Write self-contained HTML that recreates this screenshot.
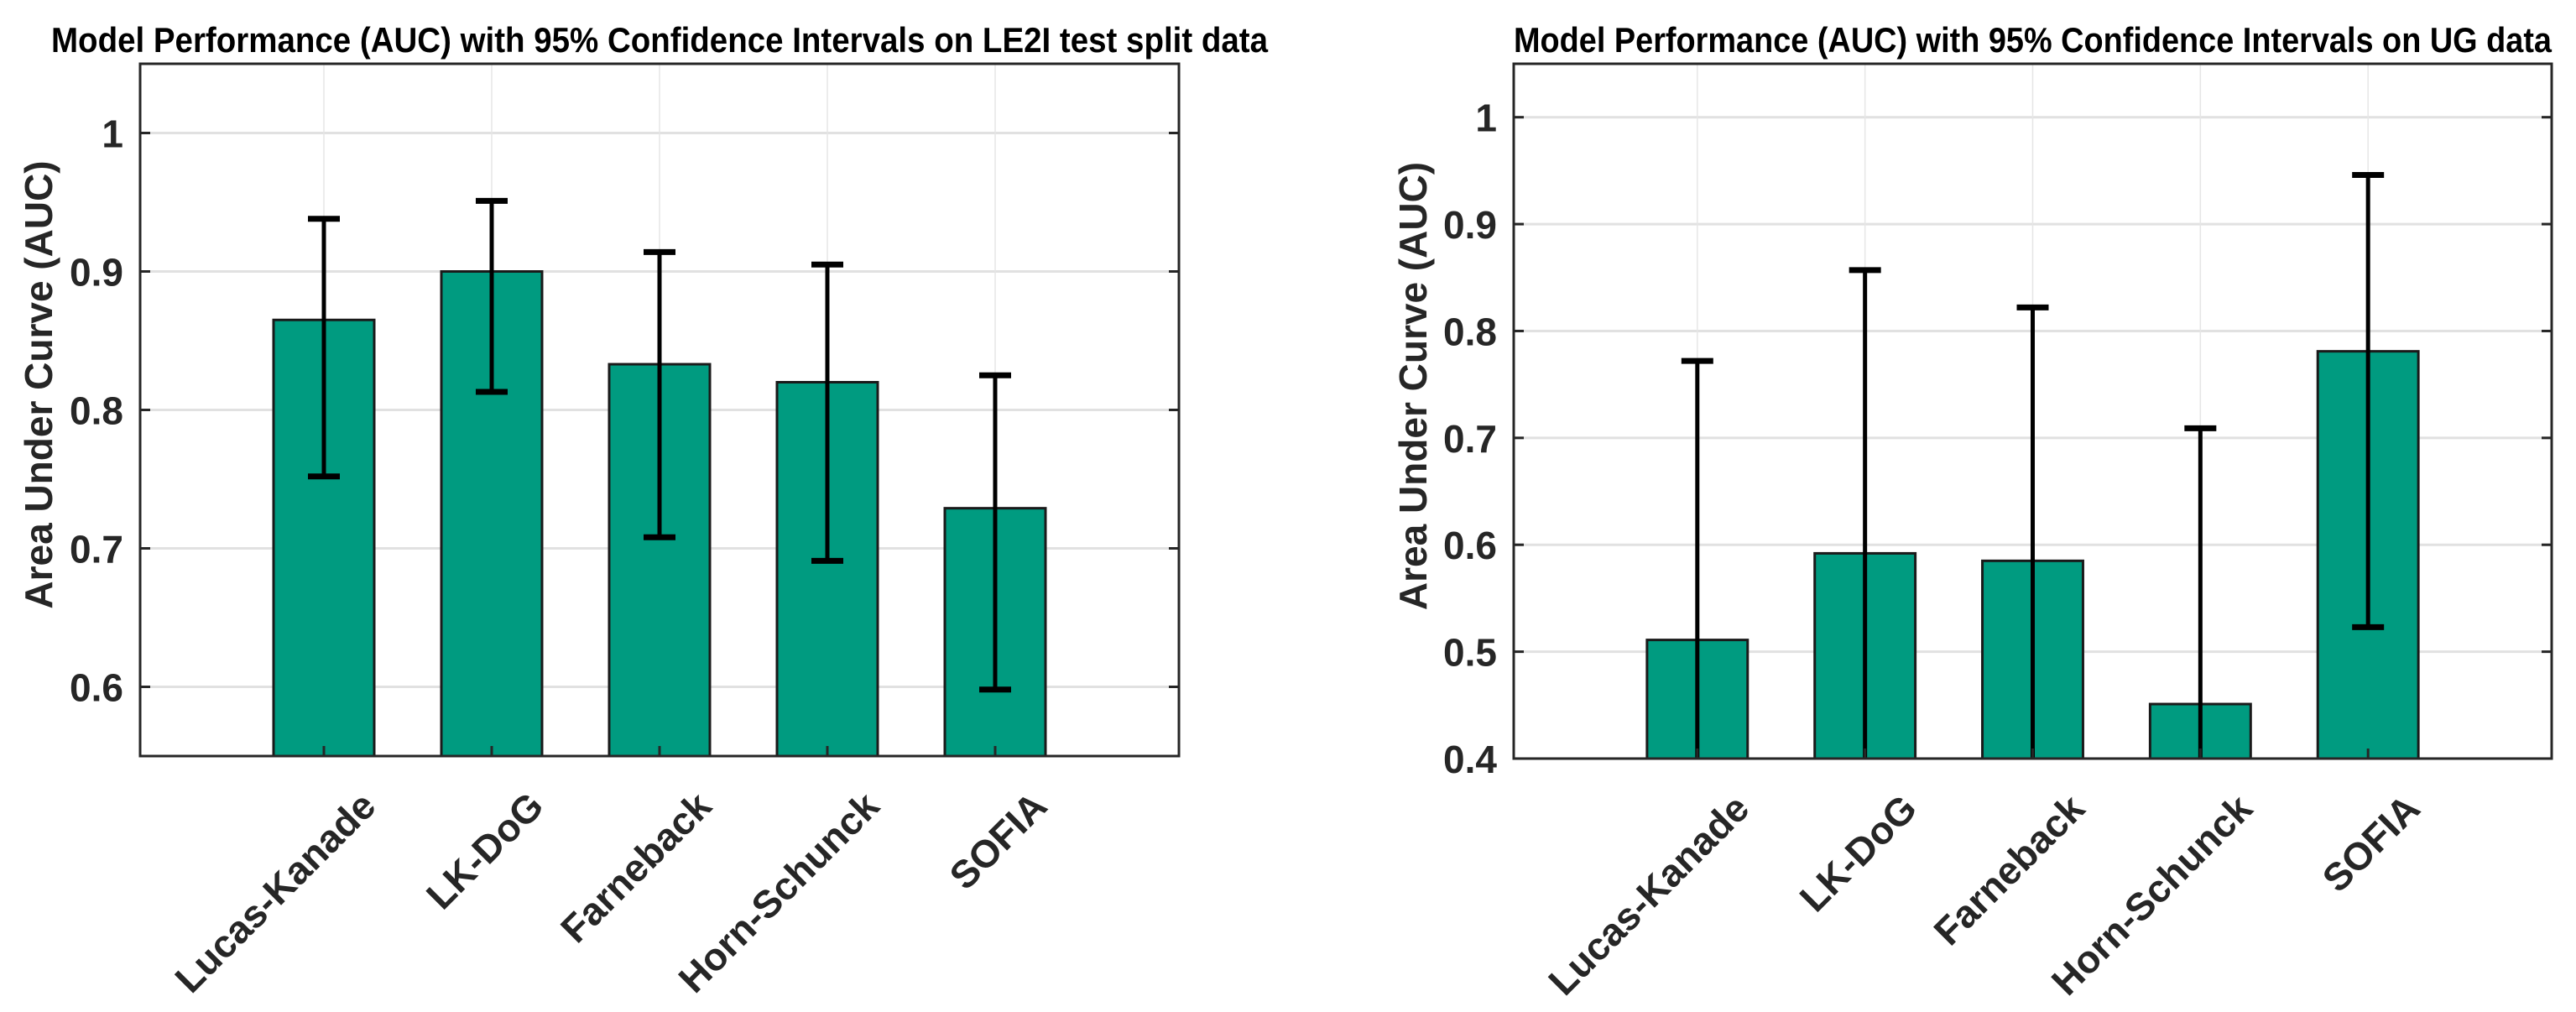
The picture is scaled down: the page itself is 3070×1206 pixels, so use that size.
<!DOCTYPE html>
<html><head><meta charset="utf-8">
<style>
html,body{margin:0;padding:0;background:#fff;}
svg{display:block;font-family:"Liberation Sans",Arial,sans-serif;}
</style></head>
<body>
<svg id="fig" width="3070" height="1206" viewBox="0 0 3070 1206" xmlns="http://www.w3.org/2000/svg">
<rect x="0" y="0" width="3070" height="1206" fill="#fff"/>
</svg>
<script>
const categories = ["Lucas-Kanade","LK-DoG","Farneback","Horn-Schunck","SOFIA"];
const aucLE2I = [0.865, 0.900, 0.833, 0.820, 0.729];
const lowLE2I = [0.752, 0.813, 0.708, 0.691, 0.598];
const highLE2I = [0.938, 0.951, 0.914, 0.905, 0.825];
const ticksLE2I = [0.6, 0.7, 0.8, 0.9, 1];
const aucUG = [0.511, 0.592, 0.585, 0.451, 0.781];
const lowUG = [0.250, 0.327, 0.348, 0.193, 0.523];
const highUG = [0.772, 0.857, 0.822, 0.709, 0.946];
const ticksUG = [0.4, 0.5, 0.6, 0.7, 0.8, 0.9, 1];

const NS = "http://www.w3.org/2000/svg";
const svg = document.getElementById('fig');
function mk(tag, attrs, parent){
  const e = document.createElementNS(NS, tag);
  for (const k in attrs) e.setAttribute(k, attrs[k]);
  (parent||svg).appendChild(e);
  return e;
}

function drawChart(cfg){
  const g = mk('g', {});
  
  
  const L=cfg.left, R=cfg.right, T=76, B=cfg.bottom;
  const step = (R-L)/(categories.length-1+2.19);
  const xS = i => L + step*(1.095 + i);
  const yS = v => B - (v - cfg.ymin)/(cfg.ymax - cfg.ymin)*(B-T);
  const clipId = cfg.name+'-clip';
  const defs = mk('defs', {}, g);
  const cp = mk('clipPath', {id: clipId}, defs);
  mk('rect', {x:L, y:T, width:R-L, height:B-T}, cp);
  cfg.ticks.forEach(v=>{
    const l = mk('line', {x1:L, x2:R, y1:yS(v), y2:yS(v), stroke:'#e1e1e1', 'stroke-width':3}, g);
    
    
  });
  categories.forEach((c,i)=>{
    const l = mk('line', {x1:xS(i), x2:xS(i), y1:T, y2:B, stroke:'#e6e6e6', 'stroke-width':1.5}, g);
    
    
  });
  const pg = mk('g', {'clip-path':'url(#'+clipId+')'}, g);
  const bw = step*0.6;
  cfg.vals.forEach((v,i)=>{
    const r = mk('rect', {x:xS(i)-bw/2, y:yS(v), width:bw, height:B-yS(v), fill:'#009b80', stroke:'#1a1a1a', 'stroke-width':3}, pg);
    
    
  });
  cfg.vals.forEach((v,i)=>{
    const eg = mk('g', {stroke:'#000'}, pg);
    
    
    const x = xS(i);
    mk('line', {x1:x, x2:x, y1:yS(cfg.hi[i]), y2:yS(cfg.lo[i]), 'stroke-width':5}, eg);
    mk('line', {x1:x-19, x2:x+19, y1:yS(cfg.hi[i]), y2:yS(cfg.hi[i]), 'stroke-width':7}, eg);
    mk('line', {x1:x-19, x2:x+19, y1:yS(cfg.lo[i]), y2:yS(cfg.lo[i]), 'stroke-width':7}, eg);
  });
  const fr = mk('rect', {x:L, y:T, width:R-L, height:B-T, fill:'none', stroke:'#262626', 'stroke-width':3}, g);
  
  
  cfg.ticks.forEach(v=>{
    const y = yS(v);
    mk('line', {x1:L, x2:L+12, y1:y, y2:y, stroke:'#262626', 'stroke-width':3}, g);
    mk('line', {x1:R-12, x2:R, y1:y, y2:y, stroke:'#262626', 'stroke-width':3}, g);
    const t = mk('text', {x:L-20, y:y+17, 'text-anchor':'end', 'font-size':46, 'font-weight':'bold', fill:'#262626'}, g);
    t.textContent = String(v);
    
    
  });
  categories.forEach((c,i)=>{
    const x = xS(i);
    mk('line', {x1:x, x2:x, y1:B-12, y2:B, stroke:'#262626', 'stroke-width':3}, g);
    const t = mk('text', {transform:'translate('+(x+40)+','+(B+38)+') rotate(-45)', 'text-anchor':'end', 'font-size':46, 'font-weight':'bold', fill:'#262626', dy:'0.75em'}, g);
    t.textContent = c;
    
    
  });
  const yt = mk('text', {transform:'translate('+cfg.ylabX+','+((T+B)/2-30)+') rotate(-90)', 'text-anchor':'middle', 'font-size':46, 'font-weight':'bold', fill:'#262626'}, g);
  yt.textContent = 'Area Under Curve (AUC)';
  
  
  const tt = mk('text', {x:(L+R)/2, y:62, 'text-anchor':'middle', 'font-size':42, 'font-weight':'bold', fill:'#000', textLength:cfg.titleW, lengthAdjust:'spacingAndGlyphs'}, g);
  tt.textContent = cfg.title;
  
  
}

drawChart({name:'le2i-chart', left:167, right:1405, bottom:901, ymin:0.55, ymax:1.05,
  vals:aucLE2I, lo:lowLE2I, hi:highLE2I, ticks:ticksLE2I, ylabX:62, titleW:1450,
  title:'Model Performance (AUC) with 95% Confidence Intervals on LE2I test split data'});
drawChart({name:'ug-chart', left:1804, right:3041, bottom:904, ymin:0.4, ymax:1.05,
  vals:aucUG, lo:lowUG, hi:highUG, ticks:ticksUG, ylabX:1700, titleW:1237,
  title:'Model Performance (AUC) with 95% Confidence Intervals on UG data'});
</script>
</body></html>
